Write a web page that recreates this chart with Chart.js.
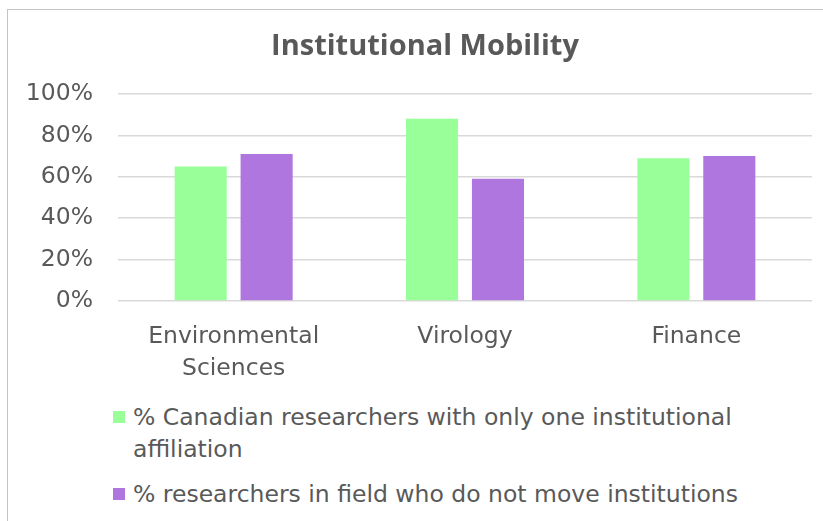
<!DOCTYPE html>
<html>
<head>
<meta charset="utf-8">
<script src="https://cdn.jsdelivr.net/npm/chart.js@4/dist/chart.umd.min.js"></script>
<style>
    body { margin: 0; background: #fff; }
    #wrap { position: relative; width: 823px; height: 521px; overflow: hidden; font-family: 'DejaVu Sans', sans-serif; color: #595959; }
    #frame { position: absolute; left: 7px; top: 9px; width: 840px; height: 540px; border: 1px solid #c4c4c4; box-sizing: border-box; }
    #graph { position: absolute; left: 0; top: 0; }
    #legend { position: absolute; left: 113px; top: 401px; width: 660px; }
    .item { display: flex; align-items: flex-start; font-size: 23.5px; line-height: 32px; margin-bottom: 13px; }
    .box { width: 12px; height: 12px; margin-top: 10px; margin-right: 8px; flex: none; }
</style>
</head>
<body>
<div id="wrap">
    <div id="frame"></div>
    <canvas id="graph" width="850" height="390"></canvas>
    <div id="legend"></div>
</div>
<script>
'use strict';

const categories = [['Environmental', 'Sciences'], 'Virology', 'Finance'];
const singleAffiliation = [65, 88, 69];
const doNotMove = [71, 59, 70];
const seriesNames = [
    '% Canadian researchers with only one institutional affiliation',
    '% researchers in field who do not move institutions'
];
const seriesColors = ['#99FF99', '#B076E0'];
const yTicks = [0, 20, 40, 60, 80, 100];

const textColor = '#595959';
const fontFamily = "'DejaVu Sans', sans-serif";

// the title sits centred on the whole frame, which runs past the right edge
const titleShift = {
    id: 'titleShift',
    afterLayout(chart) {
        chart.titleBlock.left = 38;
    }
};

const ctx = document.getElementById('graph').getContext('2d');
const chart = new Chart(ctx, {
    type: 'bar',
    data: {
        labels: categories,
        datasets: [{
            label: seriesNames[0],
            data: singleAffiliation,
            backgroundColor: seriesColors[0]
        }, {
            label: seriesNames[1],
            data: doNotMove,
            backgroundColor: seriesColors[1]
        }]
    },
    plugins: [titleShift],
    options: {
        responsive: false,
        animation: false,
        devicePixelRatio: 1,
        categoryPercentage: 0.57,
        barPercentage: 0.79,
        layout: { padding: { left: 0, right: 38, top: 0, bottom: 0 } },
        plugins: {
            legend: { display: false },
            tooltip: { enabled: false },
            title: {
                display: true,
                text: 'Institutional Mobility',
                color: textColor,
                font: { family: "'Open Sans', sans-serif", size: 29, weight: 'bold', lineHeight: 1.2 },
                padding: { top: 29.6, bottom: 29.6 }
            }
        },
        scales: {
            x: {
                grid: { display: false, drawTicks: false },
                border: { display: false },
                ticks: {
                    color: textColor,
                    font: { family: fontFamily, size: 23.5, lineHeight: 1.36 },
                    padding: 20
                },
                afterFit: scale => { scale.height = 89; }
            },
            y: {
                min: 0,
                max: 100,
                afterBuildTicks: scale => { scale.ticks = yTicks.map(v => ({ value: v })); },
                grid: { color: '#d9d9d9', lineWidth: 1.5, drawTicks: false },
                border: { display: false },
                ticks: {
                    color: textColor,
                    font: { family: fontFamily, size: 23.5 },
                    padding: 25,
                    callback: v => v + '%'
                },
                afterFit: scale => { scale.width = 118; }
            }
        }
    }
});

// legend drawn as html so the long label can wrap
const legend = document.getElementById('legend');
chart.data.datasets.forEach(ds => {
    const item = document.createElement('div');
    item.className = 'item';
    const box = document.createElement('span');
    box.className = 'box';
    box.style.background = ds.backgroundColor;
    const text = document.createElement('span');
    text.textContent = ds.label;
    item.appendChild(box);
    item.appendChild(text);
    legend.appendChild(item);
});
</script>
</body>
</html>
